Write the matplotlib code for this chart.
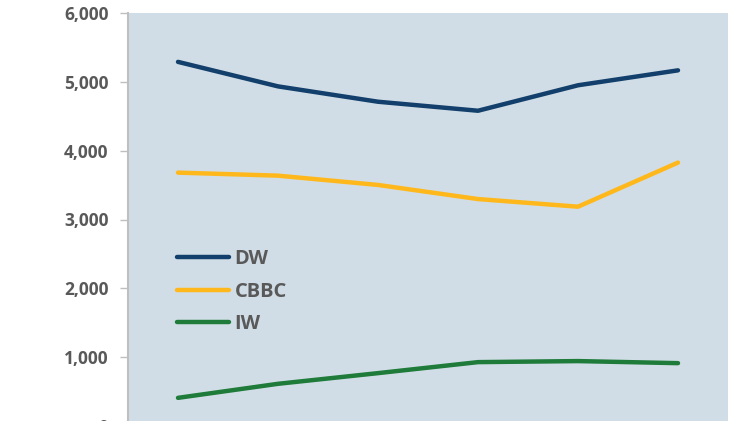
import matplotlib.pyplot as plt
from matplotlib.ticker import FuncFormatter

# monthly turnover by product
periods = [0, 1, 2, 3, 4, 5]
dw = [5290, 4934, 4711, 4580, 4950, 5167]
cbbc = [3681, 3637, 3502, 3297, 3186, 3827]
iw = [409, 613, 768, 928, 943, 913]

plt.rcParams['font.family'] = ['Open Sans', 'DejaVu Sans']

fig = plt.figure(figsize=(7.34, 4.21), dpi=100)
ax = fig.add_axes([128 / 734, -5 / 421, 600 / 734, 413 / 421])
ax.set_facecolor('#D1DDE6')

ax.plot(periods, dw, color='#123F6B', lw=3.2, solid_capstyle='round', label='DW')
ax.plot(periods, cbbc, color='#FFB81C', lw=3.2, solid_capstyle='round', label='CBBC')
ax.plot(periods, iw, color='#1E7B3A', lw=3.2, solid_capstyle='round', label='IW')

ax.set_xlim(-0.5, 5.5)
ax.set_ylim(0, 6000)
ax.set_yticks(range(0, 6001, 1000))
ax.yaxis.set_major_formatter(FuncFormatter(lambda v, p: f'{int(v):,}'))
ax.tick_params(axis='y', length=6, width=1, color='#BFBFBF', labelsize=12.5,
               labelcolor='#595959', pad=8)
for t in ax.get_yticklabels():
    t.set_fontweight('bold')
ax.set_xticks([])

for s in ['top', 'right', 'bottom']:
    ax.spines[s].set_visible(False)
ax.spines['left'].set_color('#BFBFBF')
ax.spines['left'].set_linewidth(1.5)

leg = ax.legend(loc='upper left', bbox_to_anchor=(0.052, 0.472), frameon=False,
                handlelength=2.55, handletextpad=0.3, labelspacing=0.62,
                prop={'size': 14.5, 'weight': 'bold'})
for t in leg.get_texts():
    t.set_color('#595959')

fig.savefig('out.png', dpi=100)
